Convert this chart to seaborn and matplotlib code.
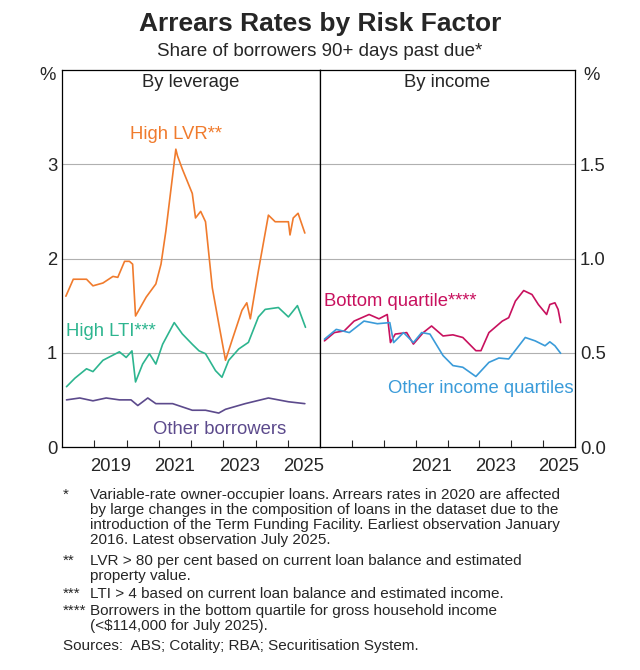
import matplotlib
matplotlib.use("Agg")
import matplotlib.pyplot as plt
import seaborn as sns
import pandas as pd

sns.set_style("white")
plt.rcParams['font.family'] = ['Liberation Sans', 'DejaVu Sans']

lvr_x = [2018.12,2018.35,2018.76,2018.96,2019.27,2019.58,2019.73,2019.94,2020.09,2020.19,2020.28,2020.61,2020.91,2021.07,2021.22,2021.53,2021.58,2021.73,2022.04,2022.14,2022.30,2022.45,2022.66,2022.86,2023.07,2023.27,2023.58,2023.73,2023.84,2024.09,2024.40,2024.61,2025.02,2025.07,2025.17,2025.32,2025.53]
lvr_y = [1.60,1.78,1.78,1.71,1.74,1.81,1.80,1.97,1.97,1.94,1.39,1.59,1.73,1.94,2.29,3.16,3.09,2.95,2.69,2.43,2.50,2.39,1.69,1.31,0.92,1.13,1.45,1.53,1.36,1.87,2.46,2.39,2.39,2.25,2.43,2.48,2.27]
lti_x = [2018.14,2018.40,2018.76,2018.96,2019.27,2019.78,2019.99,2020.17,2020.28,2020.50,2020.71,2020.91,2021.12,2021.48,2021.73,2022.04,2022.25,2022.45,2022.76,2022.96,2023.17,2023.48,2023.78,2024.09,2024.30,2024.71,2025.02,2025.30,2025.55]
lti_y = [0.64,0.73,0.83,0.80,0.92,1.01,0.95,1.02,0.69,0.88,0.99,0.88,1.09,1.32,1.20,1.09,1.02,0.99,0.81,0.74,0.92,1.04,1.11,1.38,1.46,1.48,1.38,1.50,1.27]
oth_x = [2018.14,2018.55,2018.96,2019.37,2019.78,2020.14,2020.35,2020.66,2020.91,2021.43,2022.04,2022.45,2022.86,2023.07,2023.68,2024.40,2025.02,2025.53]
oth_y = [0.50,0.52,0.49,0.52,0.50,0.50,0.44,0.52,0.46,0.46,0.39,0.39,0.36,0.40,0.46,0.52,0.48,0.46]

bq_x = [2018.14,2018.45,2018.76,2019.07,2019.54,2019.85,2020.11,2020.21,2020.36,2020.72,2020.93,2021.24,2021.50,2021.86,2022.17,2022.48,2022.89,2023.05,2023.30,2023.72,2023.92,2024.13,2024.39,2024.65,2024.85,2025.11,2025.21,2025.37,2025.47,2025.55]
bq_y = [0.563,0.607,0.616,0.668,0.703,0.680,0.703,0.554,0.599,0.607,0.546,0.607,0.642,0.589,0.595,0.581,0.511,0.511,0.607,0.668,0.686,0.774,0.830,0.809,0.756,0.703,0.756,0.765,0.730,0.660]
oq_x = [2018.14,2018.51,2018.92,2019.38,2019.80,2020.19,2020.31,2020.62,2020.93,2021.19,2021.45,2021.86,2022.17,2022.48,2022.89,2023.30,2023.61,2023.92,2024.44,2024.75,2025.06,2025.21,2025.37,2025.55]
oq_y = [0.572,0.624,0.607,0.668,0.654,0.660,0.554,0.607,0.554,0.607,0.599,0.485,0.432,0.423,0.374,0.449,0.472,0.467,0.581,0.563,0.537,0.558,0.537,0.497]

C_LVR, C_LTI, C_OTH = "#F07B2D", "#2DB58F", "#5C4A8C"
C_BQ, C_OQ = "#C8115E", "#3A9BD9"
FS = 13.3

fig = plt.figure(figsize=(6.4, 6.7), dpi=100)
axL = fig.add_axes([62/640, 1-447/670, 258/640, 377/670])
axR = fig.add_axes([320/640, 1-447/670, 255/640, 377/670])

for x, y, c in [(lvr_x, lvr_y, C_LVR), (lti_x, lti_y, C_LTI), (oth_x, oth_y, C_OTH)]:
    sns.lineplot(data=pd.DataFrame({"x": x, "y": y}), x="x", y="y", ax=axL, color=c, lw=1.2)
for x, y, c in [(bq_x, bq_y, C_BQ), (oq_x, oq_y, C_OQ)]:
    sns.lineplot(data=pd.DataFrame({"x": x, "y": y}), x="x", y="y", ax=axR, color=c, lw=1.2)

axL.set_ylim(0, 4); axR.set_ylim(0, 2)
for ax in (axL, axR):
    ax.set_xlim(2018, 2026)
    ax.set_xlabel(""); ax.set_ylabel("")
    ax.set_xticks(range(2019, 2026))
    ax.set_xticklabels([])
    ax.tick_params(axis="x", direction="in", length=5, bottom=True, width=0.8)
    ax.tick_params(axis="y", length=0, labelsize=FS)
    for s in ax.spines.values():
        s.set_color("black"); s.set_linewidth(0.9)
axL.set_yticks([0, 1, 2, 3]); axL.set_yticklabels(["0", "1", "2", "3"])
axL.yaxis.grid(True, color="#b0b0b0", lw=0.8)
axR.set_yticks([0, 0.5, 1.0, 1.5]); axR.set_yticklabels(["0.0", "0.5", "1.0", "1.5"])
axR.yaxis.tick_right()
axR.yaxis.grid(True, color="#b0b0b0", lw=0.8)
for ax in (axL, axR):
    ax.set_axisbelow(True)

for yr in [2019, 2021, 2023, 2025]:
    axL.text(yr + 0.5, -0.028, str(yr), transform=axL.get_xaxis_transform(), ha="center", va="top", fontsize=FS)
for yr in [2021, 2023, 2025]:
    axR.text(yr + 0.5, -0.028, str(yr), transform=axR.get_xaxis_transform(), ha="center", va="top", fontsize=FS)

axL.text(0.5, 0.99, "By leverage", transform=axL.transAxes, ha="center", va="top", fontsize=FS)
axR.text(0.5, 0.99, "By income", transform=axR.transAxes, ha="center", va="top", fontsize=FS)
axL.text(2021.55, 3.23, "High LVR**", color=C_LVR, fontsize=FS, ha="center", va="bottom")
axL.text(2018.12, 1.23, "High LTI***", color=C_LTI, fontsize=FS, ha="left", va="center")
axL.text(2022.9, 0.1, "Other borrowers", color=C_OTH, fontsize=FS, ha="center", va="bottom")
axR.text(2018.12, 0.77, "Bottom quartile****", color=C_BQ, fontsize=FS, ha="left", va="center")
axR.text(2025.95, 0.31, "Other income quartiles", color=C_OQ, fontsize=FS, ha="right", va="center")

fig.text(48/640, 1-76/670, "%", fontsize=FS, ha="center", va="center")
fig.text(592/640, 1-76/670, "%", fontsize=FS, ha="center", va="center")

fig.text(0.5, 1-24/670, "Arrears Rates by Risk Factor", fontsize=19, fontweight="bold", ha="center", va="center")
fig.text(0.5, 1-51/670, "Share of borrowers 90+ days past due*", fontsize=13.5, ha="center", va="center")

notes = [
    ("*", 488, "Variable-rate owner-occupier loans. Arrears rates in 2020 are affected\nby large changes in the composition of loans in the dataset due to the\nintroduction of the Term Funding Facility. Earliest observation January\n2016. Latest observation July 2025."),
    ("**", 554, "LVR > 80 per cent based on current loan balance and estimated\nproperty value."),
    ("***", 587, "LTI > 4 based on current loan balance and estimated income."),
    ("****", 604, "Borrowers in the bottom quartile for gross household income\n(<$114,000 for July 2025)."),
]
for mark, ytop, body in notes:
    fig.text(63/640, 1-ytop/670, mark, fontsize=11, ha="left", va="top")
    fig.text(90/640, 1-ytop/670, body, fontsize=11, ha="left", va="top", linespacing=1.08)
fig.text(63/640, 1-639/670, "Sources:  ABS; Cotality; RBA; Securitisation System.", fontsize=11, ha="left", va="top")

fig.savefig("out.png", dpi=100)
